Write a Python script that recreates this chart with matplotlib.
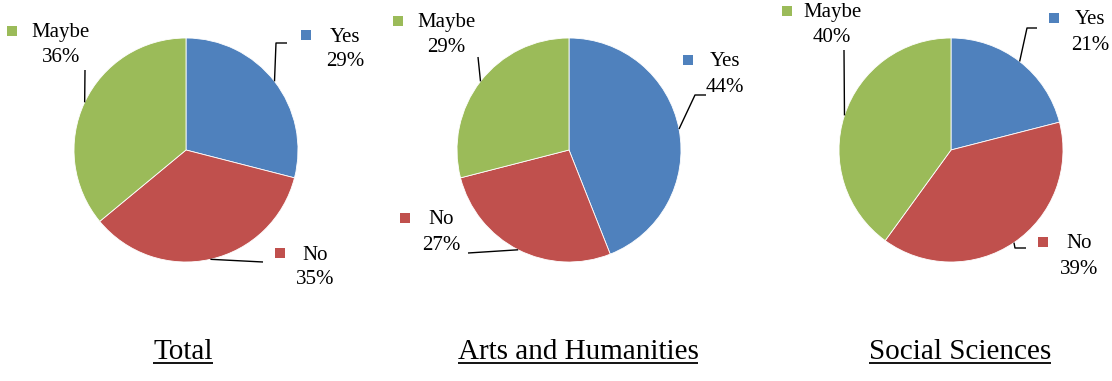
import numpy as np
import matplotlib
matplotlib.use("Agg")
import matplotlib.pyplot as plt

plt.rcParams['font.family'] = ['Liberation Serif', 'DejaVu Serif']

# Data
categories = ['Yes', 'No', 'Maybe']
titles = ['Total', 'Arts and Humanities', 'Social Sciences']
total = [29, 35, 36]
arts = [44, 27, 29]
social = [21, 39, 40]
series = [total, arts, social]
colors = ['#4F81BD', '#C0504D', '#9BBB59']

# Layout (pixels, measured from top-left of the image)
W, H = 1112, 381
R = 112
centers = [(186, 150), (569, 150), (951, 150)]
title_x = [183, 578, 960]
title_base = 359
# label text centre x, first line centre y, key centre x
label_pos = [
    [(345, 37, 306), (315, 255, 280), (61, 33, 12)],
    [(725, 62, 688), (441, 220, 405), (446, 23, 398)],
    [(1090, 20, 1054), (1079, 244, 1043), (832, 13, 787)],
]
# leader line points after the wedge edge point
leaders = [
    [[(276, 43), (287, 43)], [(263, 262)], [(85, 70)]],
    [[(695, 95), (706, 95)], [(468, 253)], [(478, 57)]],
    [[(1027, 28), (1037, 28)], [(1015, 248), (1026, 248)], [(844, 50)]],
]


def py(y):
    return H - y


fig = plt.figure(figsize=(W / 100, H / 100), dpi=100)
ax = fig.add_axes([0, 0, 1, 1])

for i, vals in enumerate(series):
    cx, cy = centers[i]
    ax.pie(vals, colors=colors, startangle=90, counterclock=False,
           center=(cx, py(cy)), radius=R,
           wedgeprops=dict(edgecolor='white', linewidth=0.6))

    # leader lines start at the middle of each wedge's arc
    cum = np.cumsum([0] + vals)
    for j, v in enumerate(vals):
        mid = (cum[j] + v / 2) / sum(vals) * 2 * np.pi
        ex = cx + R * np.sin(mid)
        ey = py(cy) + R * np.cos(mid)
        pts = [(ex, ey)] + [(x, py(y)) for x, y in leaders[i][j]]
        xs, ys = zip(*pts)
        ax.plot(xs, ys, color='black', lw=1.0, solid_capstyle='butt')

        tx, ty, kx = label_pos[i][j]
        ax.text(tx, py(ty), categories[j], fontsize=15, ha='center', va='center')
        ax.text(tx, py(ty + 25), f'{v}%', fontsize=15, ha='center', va='center')
        ax.plot(kx, py(ty - 2), marker='s', markersize=7, color=colors[j],
                markeredgewidth=0)

title_texts = []
for i, t in enumerate(titles):
    title_texts.append(ax.text(title_x[i], py(title_base), t, fontsize=21,
                               ha='center', va='baseline'))

ax.set_xlim(0, W)
ax.set_ylim(0, H)
ax.axis('off')

# underline the titles
fig.canvas.draw()
renderer = fig.canvas.get_renderer()
inv = ax.transData.inverted()
for t in title_texts:
    bb = t.get_window_extent(renderer)
    (x0, _), (x1, _) = inv.transform([(bb.x0, bb.y0), (bb.x1, bb.y0)])
    ax.plot([x0, x1], [py(title_base + 3.5)] * 2, color='black', lw=1.3,
            solid_capstyle='butt')

fig.savefig('out.png', dpi=100, facecolor='white')
